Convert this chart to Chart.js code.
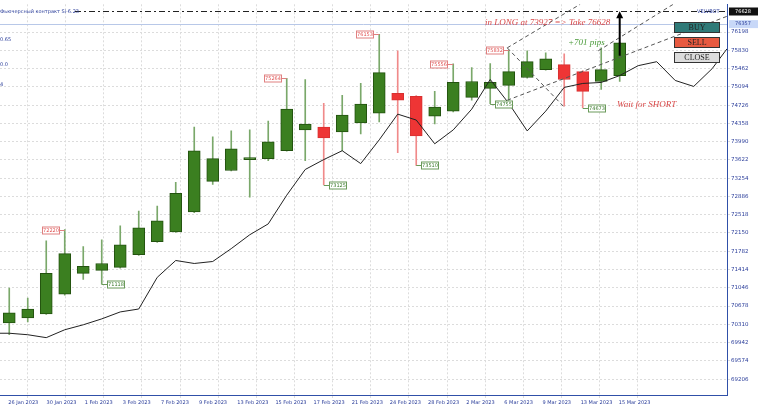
<!DOCTYPE html>
<html><head><meta charset="utf-8">
<script src="https://cdn.jsdelivr.net/npm/chart.js@4"></script>
<style>html,body{margin:0;padding:0;background:#fff}canvas{display:block}</style>
</head><body><canvas id="c" width="758" height="409"></canvas>
<script>
const dates=["26 Jan 2023","30 Jan 2023","1 Feb 2023","3 Feb 2023","7 Feb 2023","9 Feb 2023","13 Feb 2023","15 Feb 2023","17 Feb 2023","21 Feb 2023","24 Feb 2023","28 Feb 2023","2 Mar 2023","6 Mar 2023","9 Mar 2023","13 Mar 2023","15 Mar 2023"];
const yTicks=[76198,75830,75462,75094,74726,74358,73990,73622,73254,72886,72518,72150,71782,71414,71046,70678,70310,69942,69574,69206];
const opens =[70340,70440,70520,70918,71337,71396,71456,71715,71974,72173,72572,73189,73409,73628,73648,73807,74226,74285,74186,74365,74564,74963,74903,74504,74604,74883,75062,75122,75281,75441,75541,75401,75202,75321];
const closes=[70540,70619,71337,71735,71476,71536,71914,72253,72393,72950,73807,73648,73847,73668,73986,74644,74345,74066,74524,74744,75381,74823,74106,74684,75182,75202,75182,75401,75600,75660,75242,75003,75441,75979];
const highs =[71038,70838,71994,72220,71874,72014,72293,72592,72691,73170,74285,74086,74206,74226,74405,75264,75242,74763,74923,75162,76153,75819,74920,75003,75556,75481,75560,75832,75819,75780,75760,75420,75879,75990];
const lows  =[70101,70360,70510,70900,71217,71118,71440,71700,71960,72160,72560,73130,73400,72871,73608,73800,73608,73125,73807,74146,74385,73767,73510,74345,74590,74823,74755,74823,75270,75430,74704,74673,75042,75202];
const lineIdx=[-0.5,0,1,2,3,4,5,6,7,8,9,10,11,12,13,14,15,16,17,18,19,20,21,22,23,24,25,26,27,28,29,30,31,32,33,34,35,36,37,38,38.8];
const lineVal=[70131,70131,70101,70042,70201,70301,70420,70560,70619,71257,71596,71536,71576,71835,72114,72333,72911,73429,73628,73807,73548,74026,74544,74425,73947,74226,74644,75242,74763,74206,74604,75082,75162,75182,75321,75520,75600,75222,75102,75461,75859];
const priceLabels=[[3,72220,1],[5,71118,0],[15,75264,1],[17,73125,0],[20,76153,1],[22,73510,0],[24,75556,1],[26,74755,0],[27,75832,1],[31,74673,0]];
const takeLevel=76628, lastLevel=76357;
const trendLines=[[26.92,75879,30.86,76756],[31.84,75819,35.89,76756],[26.92,74823,39.1,76557],[26.92,75879,29.95,74704]];
const arrow=[33,75720,76616];

const idx=opens.map((_,i)=>i);
const up=i=>closes[i]>=opens[i];
const G='#3b7f20',GB='#23520f',R='#ee3535',RB='#d83030';

const overlay={id:'overlay',
 beforeDraw(ch){const c=ch.ctx;c.save();c.fillStyle='#fff';c.fillRect(0,0,ch.width,ch.height);c.restore();},
 afterDatasetsDraw(ch){
  const c=ch.ctx,x=ch.scales.x,y=ch.scales.y,a=ch.chartArea;
  c.save();
  c.strokeStyle='#b8c8e8';c.lineWidth=1;c.beginPath();c.moveTo(0,Math.round(y.getPixelForValue(lastLevel))+.5);c.lineTo(a.right,Math.round(y.getPixelForValue(lastLevel))+.5);c.stroke();
  c.strokeStyle='#222';c.setLineDash([6,3,2,3]);c.beginPath();const ty=Math.round(y.getPixelForValue(takeLevel))+.5;c.moveTo(75,ty);c.lineTo(a.right,ty);c.stroke();
  c.fillStyle='#2a3d9a';c.font='5px "DejaVu Sans"';c.textBaseline='middle';c.fillText('Фьючерсный контракт Si-6.23',0,ty);
  c.fillText('VELVBOT',697,ty);
  c.fillText('0.65',0,40);c.fillText('0.0',0,65);c.fillText('4',0,85);
  c.beginPath();c.rect(a.left,a.top,a.right-a.left,a.bottom-a.top);c.clip();
  c.setLineDash([4,3]);c.strokeStyle='#555';
  trendLines.forEach(t=>{c.beginPath();c.moveTo(x.getPixelForValue(t[0]),y.getPixelForValue(t[1]));c.lineTo(x.getPixelForValue(t[2]),y.getPixelForValue(t[3]));c.stroke();});
  c.setLineDash([]);
  const ax=x.getPixelForValue(arrow[0]),ay1=y.getPixelForValue(arrow[1]),ay2=y.getPixelForValue(arrow[2]);
  c.strokeStyle='#000';c.lineWidth=2;c.beginPath();c.moveTo(ax,ay1);c.lineTo(ax,ay2+5);c.stroke();
  c.fillStyle='#000';c.beginPath();c.moveTo(ax,ay2);c.lineTo(ax-3.5,ay2+7);c.lineTo(ax+3.5,ay2+7);c.fill();
  c.lineWidth=1;
  c.font='5px "DejaVu Sans"';c.textAlign='center';
  priceLabels.forEach(([i,v,hi])=>{
   const px=x.getPixelForValue(i),py=Math.round(y.getPixelForValue(v))+.5;
   const col=hi?'#e05050':'#3a7a2a',w=17,h=7;
   const bx=hi?Math.round(px-6-w)+.5:Math.round(px+5)+.5;
   c.strokeStyle=hi?'#e08080':'#6a9a5a';
   c.beginPath();c.moveTo(hi?bx+w:bx,py);c.lineTo(px,py);c.stroke();
   c.fillStyle='#fff';c.fillRect(bx,py-h/2,w,h);c.strokeRect(bx,py-h/2,w,h);
   c.fillStyle=col;c.fillText(String(v),bx+w/2,py+.5);
  });
  c.font='italic 9px "Liberation Serif"';c.textAlign='left';
  c.fillStyle='#d84848';c.fillText('in LONG at 73927 => Take 76628',485,23);
  c.fillText('Wait for SHORT',617,105);
  c.fillStyle='#4a9a3a';c.fillText('+701 pips',568,43);
  c.restore();
  c.save();c.font='8px "Liberation Serif"';c.textAlign='center';c.textBaseline='middle';
  [['BUY','#2f7a78',22],['SELL','#e85a40',37],['CLOSE','#dcdcdc',52]].forEach(([t,col,by])=>{
   c.fillStyle=col;c.fillRect(674,by,46,11);c.strokeStyle='#333';c.strokeRect(674.5,by+.5,45,10);
   c.fillStyle='#222';c.fillText(t,697,by+6);});
  c.font='5px "DejaVu Sans"';
  c.fillStyle='#111';c.fillRect(729,ty-4,29,8);c.fillStyle='#fff';c.fillText(String(takeLevel),743,ty);
  const ly=y.getPixelForValue(lastLevel);
  c.fillStyle='#c8d8f8';c.fillRect(729,ly-4,29,8);c.fillStyle='#2a3d9a';c.fillText(String(lastLevel),743,ly);
  c.restore();
 }};

new Chart(document.getElementById('c'),{
 data:{datasets:[
  {type:'bar',data:idx.map(i=>({x:i,y:[lows[i],highs[i]]})),backgroundColor:idx.map(i=>up(i)?'#7aa86a':'#f08a8a'),barThickness:1,grouped:false,order:3},
  {type:'bar',data:idx.map(i=>({x:i,y:[opens[i],closes[i]]})),backgroundColor:idx.map(i=>up(i)?G:R),borderColor:idx.map(i=>up(i)?GB:RB),borderWidth:1,borderSkipped:false,barThickness:12,grouped:false,order:2},
  {type:'line',data:lineIdx.map((v,k)=>({x:v,y:lineVal[k]})),borderColor:'#222',borderWidth:1,pointRadius:0,tension:0,order:1}
 ]},
 plugins:[overlay],
 options:{responsive:false,animation:false,events:[],
  layout:{padding:0},
  plugins:{legend:{display:false},tooltip:{enabled:false}},
  scales:{
   x:{type:'linear',min:-0.5,max:38.8,offset:false,
    afterBuildTicks:s=>{s.ticks=dates.map((d,k)=>({value:-0.05+k*2.0625}));},
    afterFit:s=>{s.height=14;},
    grid:{color:'#dcdcdc',tickLength:3},border:{color:'#3050a8',dash:[2,2]},
    ticks:{align:'start',maxRotation:0,autoSkip:false,padding:2,color:'#2a3d9a',font:{size:5,family:'DejaVu Sans'},callback:(v,k)=>dates[k]}},
   y:{position:'right',min:68887,max:76756,
    afterBuildTicks:s=>{s.ticks=yTicks.map(v=>({value:v}));},
    afterFit:s=>{s.width=31;},
    grid:{color:'#dcdcdc',tickLength:3},border:{color:'#3050a8',dash:[2,2]},
    ticks:{padding:1,color:'#2a3d9a',font:{size:5.5,family:'DejaVu Sans'},callback:v=>String(v)}}
  }}
});
</script></body></html>
